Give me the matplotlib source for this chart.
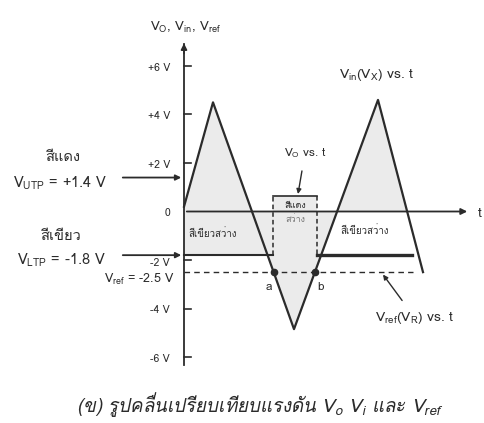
import matplotlib
matplotlib.use('Agg')
import matplotlib.pyplot as plt
import numpy as np

plt.rcParams['font.family'] = ['Loma', 'DejaVu Sans']
plt.rcParams['mathtext.default'] = 'regular'

# triangle input V_in (t in arbitrary units, volts)
vin_t = [0.0, 2.9, 11.0, 19.4, 23.9]
vin_v = [0.2, 4.5, -4.85, 4.6, -2.5]

# comparator output V_O
vo_t = [0.0, 8.9, 8.9, 13.3, 13.3, 22.8]
vo_v = [-1.8, -1.8, 0.65, 0.65, -1.8, -1.8]

v_utp = 1.4
v_ltp = -1.8
v_ref = -2.5
t_ref_end = 22.9
t_axis_end = 28.6

yticks = [6, 4, 2, 0, -2, -4, -6]
ytick_labels = ['+6 V', '+4 V', '+2 V', '0', '-2 V', '-4 V', '-6 V']

ink = '#2b2b2b'
shade = '#ebebeb'

fig = plt.figure(figsize=(4.85, 4.23), dpi=100)
ax = fig.add_axes([0, 0, 1, 1])
ax.set_xlim(-18.4, 30.1)
ax.set_ylim(-8.72, 8.72)
ax.set_xticks([])
ax.set_yticks([])

# y axis on t = 0
for s in ['top', 'right', 'bottom']:
    ax.spines[s].set_visible(False)
ax.spines['left'].set_position(('data', 0))
ax.spines['left'].set_bounds(-6.33, 6.9)
ax.spines['left'].set_color(ink)
ax.spines['left'].set_linewidth(1.3)
ax.annotate('', xy=(0, 7.05), xytext=(0, 6.4),
            arrowprops=dict(arrowstyle='-|>', color=ink, lw=1.2,
                            mutation_scale=9))
ax.text(0.2, 7.57, 'V$_O$, V$_{in}$, V$_{ref}$', ha='center', va='center',
        fontsize=9.5, color=ink)

# short ticks pointing into the plot, labels to the left
for v, lab in zip(yticks, ytick_labels):
    if v != 0:
        ax.plot([0, 0.7], [v, v], color=ink, lw=1.2, zorder=6)
    dy = 0.12 if v == -2 else 0.08
    ax.text(-1.4, v - dy, lab, ha='right', va='center', fontsize=7.5,
            color=ink)

# shaded areas
tt = np.linspace(vin_t[0], vin_t[-1], 800)
vv = np.interp(tt, vin_t, vin_v)
t_last = vin_t[3] + vin_v[3] * (vin_t[4] - vin_t[3]) / (vin_v[3] - vin_v[4])
ax.fill_between(tt, vv, 0, where=tt <= t_last, color=shade, lw=0, zorder=1)
ax.fill_between([0, vo_t[1]], v_ltp, 0, color=shade, lw=0, zorder=1)
ax.fill_between([vo_t[2], vo_t[3]], 0, vo_v[2], color=shade, lw=0, zorder=1)

# time axis
ax.annotate('', xy=(t_axis_end, 0), xytext=(0, 0),
            arrowprops=dict(arrowstyle='-|>', color=ink, lw=1.3,
                            mutation_scale=9), zorder=3)
ax.text(t_axis_end + 1.0, -0.1, 't', ha='center', va='center', fontsize=10,
        color=ink)

# V_ref dashed line
ax.plot([0, t_ref_end], [v_ref, v_ref], color=ink, lw=1.0,
        dashes=(4, 3), zorder=2)

# triangle wave
ax.plot(vin_t, vin_v, color=ink, lw=1.6, zorder=4)

# output square wave
ax.plot(vo_t[:2], vo_v[:2], color=ink, lw=1.5, zorder=3)
ax.plot(vo_t[1:3], vo_v[1:3], color=ink, lw=1.1, ls=(0, (3, 2)), zorder=3)
ax.plot(vo_t[2:4], vo_v[2:4], color=ink, lw=1.2, zorder=3)
ax.plot(vo_t[3:5], vo_v[3:5], color=ink, lw=1.1, ls=(0, (3, 2)), zorder=3)
ax.plot(vo_t[4:], vo_v[4:], color=ink, lw=2.4, zorder=3)

# crossing points a, b
t_a = vin_t[1] + (vin_v[1] - v_ref) * (vin_t[2] - vin_t[1]) / (vin_v[1] - vin_v[2])
t_b = vin_t[2] + (v_ref - vin_v[2]) * (vin_t[3] - vin_t[2]) / (vin_v[3] - vin_v[2])
ax.plot([t_a, t_b], [v_ref, v_ref], 'o', color=ink, ms=4.5, zorder=5)
ax.text(t_a - 0.5, v_ref - 0.6, 'a', ha='center', va='center', fontsize=8.5,
        color=ink)
ax.text(t_b + 0.6, v_ref - 0.6, 'b', ha='center', va='center', fontsize=8.5,
        color=ink)

# threshold arrows on the left
arrow_kw = dict(arrowstyle='-|>', color=ink, lw=1.3, mutation_scale=8)
ax.annotate('', xy=(0, v_utp), xytext=(-6.4, v_utp), arrowprops=arrow_kw)
ax.annotate('', xy=(0, v_ltp), xytext=(-6.4, v_ltp), arrowprops=arrow_kw)
ax.text(-12.1, v_utp + 0.85, 'สีแดง', ha='center', va='center', fontsize=10.5,
        color=ink)
ax.text(-12.4, v_utp - 0.25, 'V$_{UTP}$ = +1.4 V', ha='center', va='center',
        fontsize=10.5, color=ink)
ax.text(-12.4, v_ltp + 0.8, 'สีเขียว', ha='center', va='center', fontsize=10.5,
        color=ink)
ax.text(-12.3, v_ltp - 0.22, 'V$_{LTP}$ = -1.8 V', ha='center', va='center',
        fontsize=10.5, color=ink)
ax.text(-0.9, v_ref - 0.3, 'V$_{ref}$ = -2.5 V', ha='right', va='center',
        fontsize=9, color=ink)

# region labels
ax.text(0.4, -0.89, 'สีเขียวสว่าง', ha='left', va='center', fontsize=7,
        color=ink)
ax.text(11.1, 0.25, 'สีแดง', ha='center', va='center', fontsize=6.5,
        color=ink)
ax.text(11.1, -0.35, 'สว่าง', ha='center', va='center', fontsize=6.5,
        color='#777777')
ax.text(15.6, -0.77, 'สีเขียวสว่าง', ha='left', va='center', fontsize=7,
        color=ink)

# curve labels
ax.text(19.3, 5.63, 'V$_{in}$(V$_X$) vs. t', ha='center', va='center',
        fontsize=10, color=ink)
ax.annotate('V$_O$ vs. t', xy=(11.4, 0.72), xytext=(12.1, 2.41),
            ha='center', va='center', fontsize=8.5, color=ink,
            arrowprops=dict(arrowstyle='-|>', color=ink, lw=1.0,
                            mutation_scale=7, shrinkA=6, shrinkB=0))
ax.annotate('V$_{ref}$(V$_R$) vs. t', xy=(19.9, v_ref - 0.1),
            xytext=(23.1, -4.39), ha='center', va='center', fontsize=10,
            color=ink,
            arrowprops=dict(arrowstyle='-|>', color=ink, lw=1.0,
                            mutation_scale=7, shrinkA=6, shrinkB=0))

fig.text(0.536, 0.043, '(ข) รูปคลื่นเปรียบเทียบแรงดัน V$_o$ V$_i$ และ V$_{ref}$',
         ha='center', va='center', fontsize=13.5, style='italic', color=ink)

fig.savefig('out.png', dpi=100)
